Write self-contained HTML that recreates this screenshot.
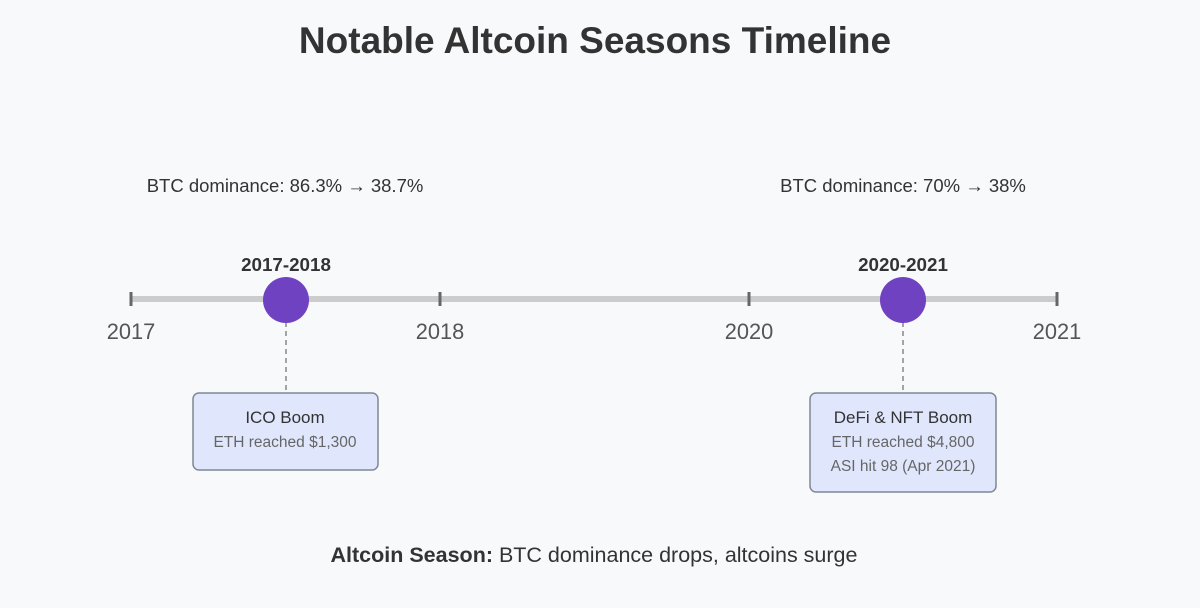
<!DOCTYPE html>
<html><head><meta charset="utf-8"><style>
html,body{margin:0;padding:0;background:#f8f9fa;}
svg{display:block;font-family:"Liberation Sans",Arial,sans-serif;}
</style></head><body>
<svg width="1200" height="608" viewBox="0 0 1200 608">
<rect width="1200" height="608" fill="#f8f9fa"/>
<text x="595" y="53" text-anchor="middle" font-size="37" font-weight="bold" fill="#333">Notable Altcoin Seasons Timeline</text>
<text x="285" y="192" text-anchor="middle" font-size="18.5" fill="#333">BTC dominance: 86.3% → 38.7%</text>
<text x="903" y="192" text-anchor="middle" font-size="18.5" fill="#333">BTC dominance: 70% → 38%</text>
<line x1="131" y1="299" x2="1057" y2="299" stroke="#cccccc" stroke-width="6"/>
<g stroke="#666" stroke-width="3">
<line x1="131" y1="292" x2="131" y2="306"/><line x1="440" y1="292" x2="440" y2="306"/>
<line x1="749" y1="292" x2="749" y2="306"/><line x1="1057" y1="292" x2="1057" y2="306"/>
</g>
<g font-size="21.8" fill="#555" text-anchor="middle">
<text x="131" y="339">2017</text><text x="440" y="339">2018</text>
<text x="749" y="339">2020</text><text x="1057" y="339">2021</text>
</g>
<g stroke="#888" stroke-width="1.5" stroke-dasharray="5,4">
<line x1="286" y1="322" x2="286" y2="393"/><line x1="903" y1="322" x2="903" y2="393"/>
</g>
<circle cx="286" cy="300" r="23" fill="#6f42c1"/>
<circle cx="903" cy="300" r="23" fill="#6f42c1"/>
<text x="286" y="271" text-anchor="middle" font-size="18.8" font-weight="bold" fill="#333">2017-2018</text>
<text x="903" y="271" text-anchor="middle" font-size="18.8" font-weight="bold" fill="#333">2020-2021</text>
<rect x="193" y="393" width="185" height="77" rx="6" fill="#e0e7fd" stroke="#7f8894" stroke-width="1.5"/>
<text x="285" y="423" text-anchor="middle" font-size="17" fill="#333">ICO Boom</text>
<text x="285" y="447" text-anchor="middle" font-size="15.5" fill="#666">ETH reached $1,300</text>
<rect x="810" y="393" width="186" height="99" rx="6" fill="#e0e7fd" stroke="#7f8894" stroke-width="1.5"/>
<text x="903" y="423" text-anchor="middle" font-size="17" fill="#333">DeFi &amp; NFT Boom</text>
<text x="903" y="447" text-anchor="middle" font-size="15.5" fill="#666">ETH reached $4,800</text>
<text x="903" y="471" text-anchor="middle" font-size="15.5" fill="#666">ASI hit 98 (Apr 2021)</text>
<text x="594" y="562" text-anchor="middle" font-size="21.5" fill="#333"><tspan font-weight="bold">Altcoin Season:</tspan> BTC dominance drops, altcoins surge</text>
</svg>
</body></html>
